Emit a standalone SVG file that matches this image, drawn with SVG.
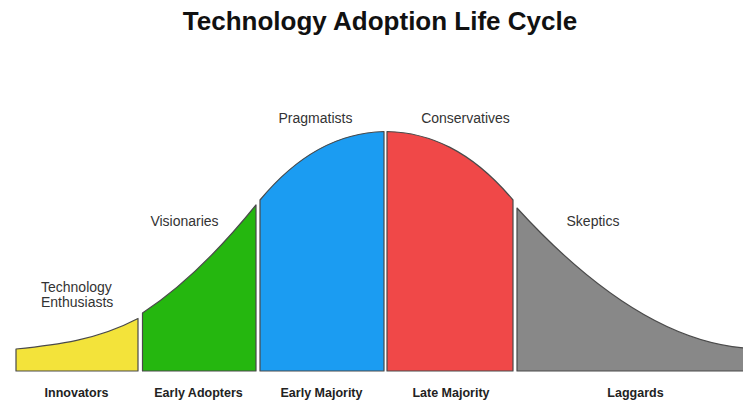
<svg xmlns="http://www.w3.org/2000/svg" width="743" height="403" viewBox="0 0 743 403">
<style>
.seg{stroke:#4a4a4a;stroke-width:1.2;stroke-linejoin:round}
.lbl{font-family:"Liberation Sans",Arial,sans-serif;font-size:14px;fill:#333}
.cat{font-family:"Liberation Sans",Arial,sans-serif;font-size:12.5px;font-weight:bold;fill:#222;text-anchor:middle}
.title{font-family:"Liberation Sans",Arial,sans-serif;font-size:26px;font-weight:bold;fill:#111;text-anchor:middle}
</style>
<rect width="743" height="403" fill="#ffffff"/>
<text class="title" x="380" y="30">Technology Adoption Life Cycle</text>
<g id="innovators">
<path class="seg" fill="#F3E33A" d="M16,371 L16,349 C56.3,345 96.7,340.2 138,318.5 L138,371 Z"/>
<text class="lbl" x="41" y="292">Technology</text>
<text class="lbl" x="41" y="307">Enthusiasts</text>
<text class="cat" x="76.5" y="397">Innovators</text>
</g>
<g id="early-adopters">
<path class="seg" fill="#25B70F" d="M142.5,371 L142.5,313 C180,288.5 218,252 256,205 L256,371 Z"/>
<text class="lbl" x="184.5" y="226" text-anchor="middle">Visionaries</text>
<text class="cat" x="198.5" y="397">Early Adopters</text>
</g>
<g id="early-majority">
<path class="seg" fill="#1B9CF2" d="M260,371 L260,200 C301,150.4 342.7,132.5 384,131.5 L384,371 Z"/>
<text class="lbl" x="315.5" y="123" text-anchor="middle">Pragmatists</text>
<text class="cat" x="321.5" y="397">Early Majority</text>
</g>
<g id="late-majority">
<path class="seg" fill="#F04848" d="M387,371 L387,131.5 C429,132.5 471,150 513,200 L513,371 Z"/>
<text class="lbl" x="465.5" y="123" text-anchor="middle">Conservatives</text>
<text class="cat" x="451" y="397">Late Majority</text>
</g>
<g id="laggards">
<path class="seg" fill="#888888" d="M517,371 L517,208 C592,290 667.7,342 745,348 L745,371 Z"/>
<text class="lbl" x="593" y="226" text-anchor="middle">Skeptics</text>
<text class="cat" x="635.5" y="397">Laggards</text>
</g>
<g id="connectors"></g>
</svg>
